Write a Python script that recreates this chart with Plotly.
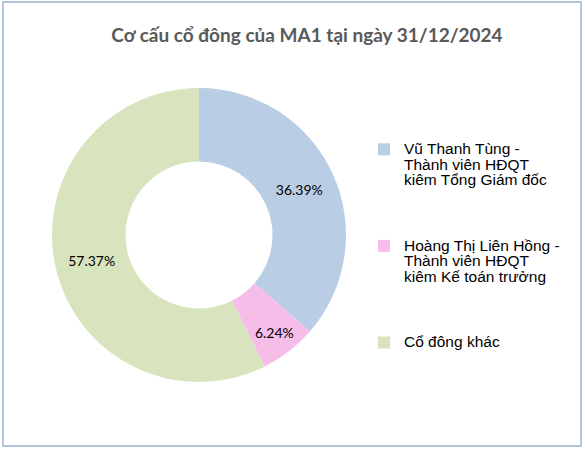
import plotly.graph_objects as go

W, H = 585, 451

legend_lines = [
    ["Vũ Thanh Tùng -", "Thành viên HĐQT", "kiêm Tổng Giám đốc"],
    ["Hoàng Thị Liên Hồng -", "Thành viên HĐQT", "kiêm Kế toán trưởng"],
    ["Cổ đông khác"],
]
values = [36.39, 6.24, 57.37]
colors = ["#B9CDE5", "#F5BDE7", "#D8E4BE"]
title = "Cơ cấu cổ đông của MA1 tại ngày 31/12/2024"


def legend_label(lines, pad):
    body = "<br>".join(f"<span style='font-size:15.5px'>{t}</span>" for t in lines)
    return body + "<br> " * pad


labels = [legend_label(l, 3 if len(l) > 1 else 0) for l in legend_lines]

cx, cy, r = 199, 235, 147

fig = go.Figure(go.Pie(
    labels=labels,
    values=values,
    hole=0.5,
    sort=False,
    direction="clockwise",
    rotation=0,
    marker=dict(colors=colors, line=dict(width=0)),
    texttemplate="%{value:.2f}%",
    textposition="inside",
    insidetextorientation="horizontal",
    textfont=dict(family="Lato", size=14, color="#000000"),
    domain=dict(x=[(cx - r) / W, (cx + r) / W], y=[1 - (cy + r) / H, 1 - (cy - r) / H]),
))

fig.update_layout(
    width=W, height=H,
    margin=dict(l=0, r=0, t=0, b=0),
    paper_bgcolor="white",
    title=dict(text=f"<b>{title}</b>", x=307 / W, xanchor="center", y=1 - 35 / H, yanchor="middle",
               font=dict(family="Lato", size=19, color="#595959")),
    legend=dict(x=364 / W, y=1 - 135 / H, xanchor="left", yanchor="top", valign="top",
                font=dict(family="Liberation Sans", size=12, color="#000000"),
                bgcolor="rgba(0,0,0,0)"),
    shapes=[dict(type="rect", xref="paper", yref="paper",
                 x0=3 / W, x1=581 / W, y0=1 - 446 / H, y1=1 - 2 / H,
                 line=dict(color="#9AB3D0", width=1.5))],
)

fig.write_html("out.html", config={"displayModeBar": False},
               post_script="document.body.style.margin='0';document.body.style.overflow='hidden';")
